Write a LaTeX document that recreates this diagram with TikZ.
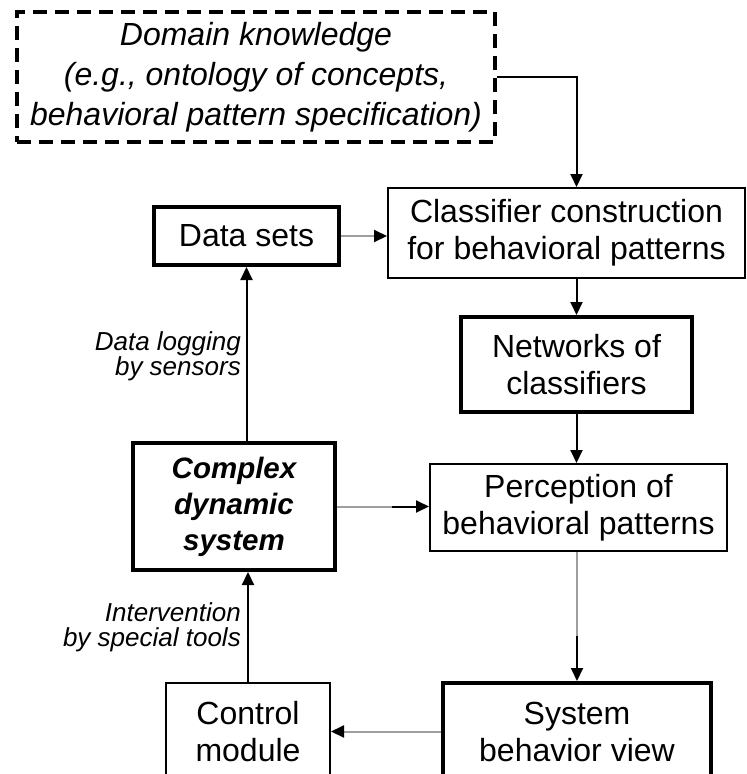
\documentclass[tikz,border=0pt]{standalone}
\usepackage{fontspec}
\setmainfont{Liberation Sans}
\usetikzlibrary{arrows.meta,calc}
\definecolor{lgray}{gray}{0.62}
\begin{document}
\begin{tikzpicture}[x=1pt,y=-1pt,
  box/.style={draw,rectangle,inner sep=0pt,align=center,line width=2pt,font=\fontsize{32}{37}\selectfont},
  boldbox/.style={box,line width=4pt},
  dashbox/.style={box,dash pattern=on 14pt off 8pt,line width=3.5pt,font=\fontsize{32}{40}\selectfont\itshape},
  lab/.style={align=right,anchor=east,inner sep=0pt,font=\fontsize{26}{25}\selectfont\itshape},
  arr/.style={line width=2pt,-{Triangle[length=13pt,width=12pt,color=black,fill=black]}},
  garr/.style={arr,draw=lgray},
  gline/.style={line width=2pt,draw=lgray},
]
\useasboundingbox (0,0) rectangle (747,774);
\clip (0,0) rectangle (747,774);

\node[dashbox, minimum width=478pt, minimum height=130pt] (dom) at (256,77)
  {Domain knowledge\\(e.g., ontology of concepts,\\behavioral pattern specification)};
\node[box, minimum width=357pt, minimum height=90pt] (cls) at (566.5,233)
  {Classifier construction\\for behavioral patterns};
\node[boldbox, minimum width=185pt, minimum height=58pt] (data) at (246.5,236) {Data sets};
\node[boldbox, minimum width=231pt, minimum height=95pt] (net) at (576.5,364.5)
  {Networks of\\classifiers};
\node[box, minimum width=297pt, minimum height=87pt] (per) at (578.5,507.5)
  {Perception of\\behavioral patterns};
\node[boldbox, minimum width=202pt, minimum height=127pt,
  font=\fontsize{29.5}{36}\selectfont\bfseries\itshape] (cds) at (234,506.5)
  {Complex\\dynamic\\system};
\node[box, minimum width=164pt, minimum height=97pt] (ctl) at (248,731.5) {Control\\module};
\node[boldbox, minimum width=268pt, minimum height=97pt] (sbv) at (577,731.5) {System\\behavior view};

\node[lab] (l1) at (241,356) {Data logging\\by sensors};
\node[lab] (l2) at (241,627) {Intervention\\by special tools};

\draw[arr] (dom.east) -| (net.north |- cls.north);
\draw[arr] (cls.south -| net.north) -- (net.north);
\draw[arr] (net.south) -- (net.south |- per.north);
\draw[garr] (data.east) -- (data.east -| cls.west);
\draw[arr] (cds.north -| data.south) -- (data.south);
\draw[arr] (ctl.north) -- (ctl.north |- cds.south);
\coordinate (m1) at ($(cds.east)!0.6!(cds.east -| per.west)$);
\draw[gline] (cds.east) -- (m1);
\draw[arr] (m1) -- (cds.east -| per.west);
\coordinate (m2) at ($(per.south -| sbv.north)!0.65!(sbv.north)$);
\draw[gline] (per.south -| sbv.north) -- (m2);
\draw[arr] (m2) -- (sbv.north);
\draw[garr] (sbv.west) -- (sbv.west -| ctl.east);
\end{tikzpicture}
\end{document}
